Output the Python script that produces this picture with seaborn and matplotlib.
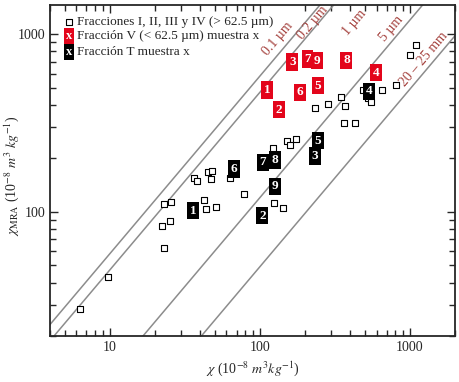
import numpy as np
import matplotlib
matplotlib.use("Agg")
import matplotlib.pyplot as plt
from matplotlib.ticker import LogLocator, FuncFormatter, NullFormatter
import seaborn as sns

# --- data ---
# Fracciones I, II, III y IV (> 62.5 um): open squares
frac_chi = [6.31, 9.8, 22.9, 22.3, 25.2, 22.9, 25.8, 36.7, 38, 45.2, 47.9, 47.1,
            42.8, 43.6, 51.2, 63.1, 78.2, 124.5, 142, 122, 151, 160, 175, 232,
            287, 347, 369, 363, 430, 491, 530, 550, 651, 807, 995, 1107]
frac_mra = [28.4, 42.8, 62.2, 83.5, 88.3, 111, 114, 156, 149, 168, 169, 154,
            116, 104, 106, 156, 126, 112, 105, 229, 251, 238, 257, 385,
            406, 444, 396, 316, 318, 486, 437, 417, 486, 519, 765, 867]

# Fraccion V (< 62.5 um), muestra x
v_ids = ["1", "2", "3", "4", "5", "6", "7", "8", "9"]
v_chi = [112, 134.5, 165, 593, 243, 185, 208, 378, 241]
v_mra = [486, 376, 698, 608, 513, 470, 724, 714, 708]

# Fraccion T, muestra x
t_ids = ["1", "2", "3", "4", "5", "6", "7", "8", "9"]
t_chi = [35.9, 104, 233, 535, 243, 67.1, 105, 127, 126]
t_mra = [101.7, 95.3, 206, 476, 252, 174, 190, 196, 139]

# reference lines chi_MRA = k * chi
line_ratio = [5.8, 4.7, 1.2, 0.49]
line_text = ["0.1 µm", "0.2 µm", "1 µm", "5 µm", "20 – 25 mm"]
line_text_pos = [(132, 937), (226, 1153), (430, 1168), (759, 1080), (1240, 724)]

RED = "#E3051B"
BROWN = "#A5423E"

sns.set_style("ticks")
plt.rcParams["font.family"] = ["Liberation Serif", "DejaVu Serif"]
plt.rcParams["mathtext.fontset"] = "stix"

fig = plt.figure(figsize=(4.59, 3.82), dpi=100)
ax = fig.add_axes([50 / 459, 1 - 336 / 382, 405 / 459, 331 / 382])
ax.set_xscale("log")
ax.set_yscale("log")
ax.set_xlim(4, 2000)
ax.set_ylim(20, 1460)

# grain size lines
xs = np.array([1.0, 5000.0])
for k in line_ratio:
    ax.plot(xs, k * xs, color="#8c8c8c", lw=1.1, zorder=1)

p1 = ax.transData.transform((10, 10))
p2 = ax.transData.transform((100, 100))
ang = np.degrees(np.arctan2(p2[1] - p1[1], p2[0] - p1[0]))
for txt, (lx, ly) in zip(line_text, line_text_pos):
    ax.text(lx, ly, txt, color=BROWN, fontsize=10, rotation=ang,
            rotation_mode="anchor", ha="center", va="center", zorder=2)

sns.scatterplot(x=frac_chi, y=frac_mra, marker="s", s=16, facecolor="white",
                edgecolor="black", linewidth=0.8, ax=ax, zorder=3)

for i, xv, yv in zip(v_ids, v_chi, v_mra):
    ax.text(xv, yv, i, color="white", fontsize=9.5, fontweight="bold",
            ha="center", va="center", zorder=4,
            bbox=dict(boxstyle="square,pad=0.2", fc=RED, ec="none"))
for i, xv, yv in zip(t_ids, t_chi, t_mra):
    ax.text(xv, yv, i, color="white", fontsize=9.5, fontweight="bold",
            ha="center", va="center", zorder=4,
            bbox=dict(boxstyle="square,pad=0.2", fc="black", ec="none"))

# legend drawn by hand
ax.scatter([0.047], [0.950], marker="s", s=14, facecolor="white",
           edgecolor="black", linewidth=0.8, transform=ax.transAxes, zorder=5)
ax.text(0.048, 0.907, "x", color="white", fontsize=9, fontweight="bold",
        ha="center", va="center", transform=ax.transAxes,
        bbox=dict(boxstyle="square,pad=0.15", fc=RED, ec="none"))
ax.text(0.048, 0.858, "x", color="white", fontsize=9, fontweight="bold",
        ha="center", va="center", transform=ax.transAxes,
        bbox=dict(boxstyle="square,pad=0.15", fc="black", ec="none"))
legend_rows = ["Fracciones I, II, III y IV (> 62.5 µm)",
               "Fracción V (< 62.5 µm) muestra x",
               "Fracción T muestra x"]
for txt, yy in zip(legend_rows, [0.950, 0.907, 0.858]):
    ax.text(0.067, yy, txt, fontsize=9.5, ha="left", va="center",
            transform=ax.transAxes)

fmt = FuncFormatter(lambda v, p: f"{v:g}")
ax.xaxis.set_major_locator(LogLocator(base=10))
ax.yaxis.set_major_locator(LogLocator(base=10))
ax.xaxis.set_major_formatter(fmt)
ax.yaxis.set_major_formatter(fmt)
ax.xaxis.set_minor_formatter(NullFormatter())
ax.yaxis.set_minor_formatter(NullFormatter())
ax.tick_params(which="both", direction="in", top=True, right=True,
               labelsize=10, width=1)
ax.tick_params(which="major", length=6)
ax.tick_params(which="minor", length=4)
for sp in ax.spines.values():
    sp.set_linewidth(1.3)

ax.set_xlabel(r"$\chi$ (10$^{-8}$ $m^{3}kg^{-1}$)", fontsize=10, labelpad=4)
ax.set_ylabel(r"$\chi_{\mathrm{MRA}}$ (10$^{-8}$ $m^{3}$ $kg^{-1}$)",
              fontsize=10)
ax.yaxis.set_label_coords(-0.072, 0.483)

fig.savefig("out.png", dpi=100)
